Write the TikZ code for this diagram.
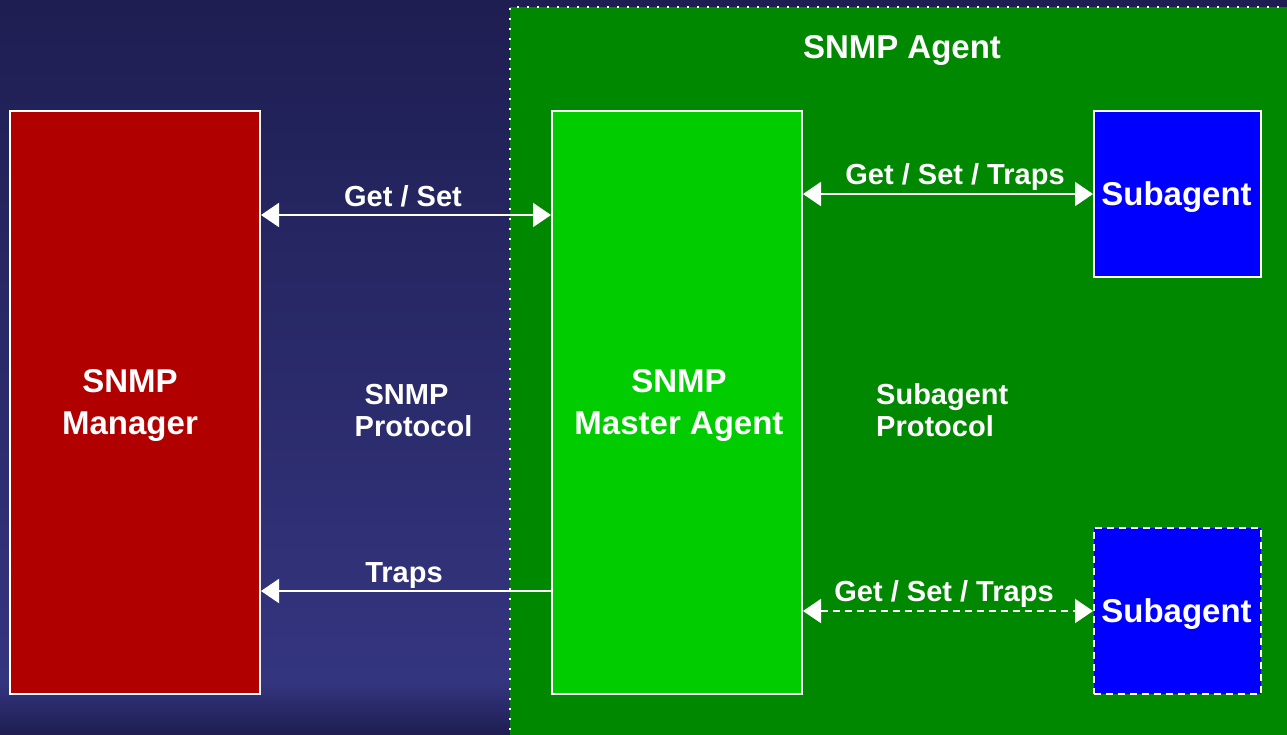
\documentclass[tikz,border=0pt]{standalone}
\usepackage{fontspec}
\setmainfont{Liberation Sans}
\usetikzlibrary{arrows.meta}
\definecolor{navytop}{HTML}{1E1E52}
\definecolor{navymid}{HTML}{34357F}
\definecolor{agentgreen}{HTML}{008800}
\definecolor{mastergreen}{HTML}{00CC00}
\definecolor{mgrred}{HTML}{B00000}
\definecolor{subblue}{HTML}{0000FF}
\tikzset{
  box/.style={draw=white, line width=2pt, inner sep=0pt},
  boxtext/.style={text=white, inner sep=0pt,
    font=\bfseries\fontsize{33}{42}\selectfont, align=center},
  lbl/.style={text=white, font=\bfseries\fontsize{29}{32}\selectfont, inner sep=0pt},
  link/.style={draw=white, line width=2pt,
    {Triangle[length=18pt,width=24pt]}-{Triangle[length=18pt,width=24pt]}},
  oneway/.style={draw=white, line width=2pt, {Triangle[length=18pt,width=24pt]}-},
}
\begin{document}
\begin{tikzpicture}[x=1pt,y=-1pt]
% backdrop
\useasboundingbox (0,0) rectangle (1287,734);
\shade[top color=navytop, bottom color=navymid] (0,0) rectangle (1287,682);
\shade[top color=navymid, bottom color=navytop] (0,682) rectangle (1287,734);
% agent area with dotted outline
\fill[agentgreen] (510,7) rectangle (1290,740);
\draw[white, line width=2pt, dash pattern=on 2pt off 8pt] (510,740) -- (510,7) -- (1290,7);
\node[lbl, font=\bfseries\fontsize{33}{40}\selectfont, anchor=base] (agent) at (902,58) {SNMP Agent};
% boxes
\node[box, fill=mgrred, minimum width=250pt, minimum height=583pt] (mgr) at (135,402.5) {};
\node[box, fill=mastergreen, minimum width=250pt, minimum height=583pt] (master) at (677,402.5) {};
\node[box, fill=subblue, minimum width=167pt, minimum height=166pt] (sub1) at (1177.5,194) {};
\node[box, fill=subblue, dash pattern=on 7pt off 5pt, minimum width=167pt, minimum height=166pt] (sub2) at (1177.5,611) {};
% box captions
\node[boxtext] (mgrtext) at ([xshift=-5pt,yshift=-3pt]mgr.center) {SNMP\\Manager};
\node[boxtext] (mastertext) at ([xshift=2pt,yshift=-3pt]master.center) {SNMP\\Master Agent};
\node[boxtext] (sub1text) at ([xshift=-1pt,yshift=-3pt]sub1.center) {Subagent};
\node[boxtext] (sub2text) at ([xshift=-1pt,yshift=-3pt]sub2.center) {Subagent};
% connectors
\coordinate (a1) at (0,215);
\coordinate (a2) at (0,591);
\coordinate (a3) at (0,194);
\coordinate (a4) at (0,611);
\draw[link] (mgr.east |- a1) -- (master.west |- a1);
\draw[oneway] (mgr.east |- a2) -- (master.west |- a2);
\draw[link] (master.east |- a3) -- (sub1.west |- a3);
\draw[link, dash pattern=on 7pt off 5pt] (master.east |- a4) -- (sub2.west |- a4);
% labels
\node[lbl, anchor=base] (l1) at (403,206) {Get / Set};
\node[lbl, anchor=base] (l2) at (404,582) {Traps};
\node[lbl, anchor=base] (l3) at (955,184) {Get / Set / Traps};
\node[lbl, anchor=base] (l4) at (944,601) {Get / Set / Traps};
\node[lbl, anchor=base] (p1a) at (406.5,404) {SNMP};
\node[lbl, anchor=base] (p1b) at (413.5,436) {Protocol};
\node[lbl, anchor=base west] (p2a) at (876,404) {Subagent};
\node[lbl, anchor=base west] (p2b) at (876,436) {Protocol};
\end{tikzpicture}
\end{document}
